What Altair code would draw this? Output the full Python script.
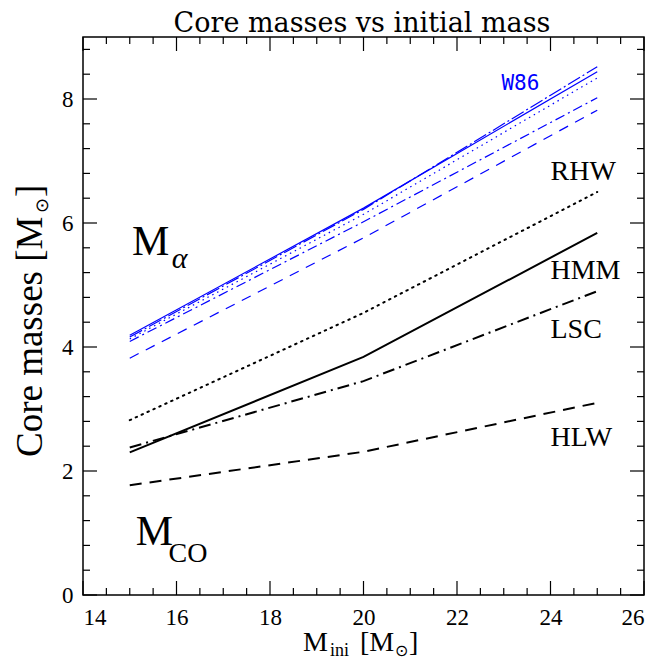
import altair as alt
import pandas as pd
import numpy as np

# ---------------- data ----------------
m_ini = [15, 20, 25]

rhw = [2.82, 4.55, 6.50]
hmm = [2.30, 3.84, 5.84]
lsc = [2.38, 3.45, 4.90]
hlw = [1.77, 2.31, 3.10]

w86_a = [4.16, 6.22, 8.52]
w86_b = [4.19, 6.24, 8.44]
w86_c = [4.13, 6.14, 8.34]
w86_d = [4.09, 6.02, 8.02]
w86_e = [3.82, 5.76, 7.82]

x_labels = [14, 16, 18, 20, 22, 24, 26]
y_labels = [0, 2, 4, 6, 8]

series = {
    "RHW": rhw, "HMM": hmm, "LSC": lsc, "HLW": hlw,
    "W86a": w86_a, "W86b": w86_b, "W86c": w86_c, "W86d": w86_d, "W86e": w86_e,
}
rows = []
for name, vals in series.items():
    for m, v in zip(m_ini, vals):
        rows.append({"series": name, "m": m, "v": v})
df = pd.DataFrame(rows)

styles = {
    "RHW": dict(color="black", strokeWidth=2.0, strokeDash=[1.5, 5], strokeCap="round"),
    "HMM": dict(color="black", strokeWidth=2.0),
    "LSC": dict(color="black", strokeWidth=2.0, strokeDash=[12, 5, 2, 5]),
    "HLW": dict(color="black", strokeWidth=2.0, strokeDash=[12, 8]),
    "W86a": dict(color="#0000ff", strokeWidth=1.2, strokeDash=[14, 3, 2, 3]),
    "W86b": dict(color="#0000ff", strokeWidth=1.2),
    "W86c": dict(color="#0000ff", strokeWidth=1.2, strokeDash=[1.5, 4]),
    "W86d": dict(color="#0000ff", strokeWidth=1.2, strokeDash=[10, 4, 2, 4]),
    "W86e": dict(color="#0000ff", strokeWidth=1.2, strokeDash=[10, 8]),
}

W, H = 561, 558
SERIF = "Liberation Serif"
xs = alt.Scale(domain=[14, 26], nice=False, zero=False)
ys = alt.Scale(domain=[0, 9], nice=False, zero=True)
xax = alt.Axis(values=x_labels, title=None, ticks=False, domain=False, grid=False,
               labelFont=SERIF, labelFontSize=23, labelColor="black", labelPadding=11)
yax = alt.Axis(values=y_labels, title=None, ticks=False, domain=False, grid=False,
               labelFont=SERIF, labelFontSize=23, labelColor="black", labelPadding=10)


def X(f):
    return alt.X(f, scale=xs, axis=xax)


def Y(f):
    return alt.Y(f, scale=ys, axis=yax)


layers = []
for name, st in styles.items():
    layers.append(
        alt.Chart(df).transform_filter(alt.datum.series == name)
        .mark_line(**st)
        .encode(x=X("m:Q"), y=Y("v:Q"))
    )

# inward ticks on all four sides
x_major = pd.DataFrame({"t": np.arange(14, 26.01, 2.0)})
x_minor = pd.DataFrame({"t": [t for t in np.arange(14, 26.01, 0.5) if t % 2 != 0]})
y_major = pd.DataFrame({"t": np.arange(0, 9.01, 2.0)})
y_minor = pd.DataFrame({"t": [round(t, 2) for t in np.arange(0, 9.01, 0.4) if round(t, 2) % 2 != 0]})


def xticks(d, ln):
    bot = alt.Chart(d).mark_rule(color="black", strokeWidth=1.2).encode(
        x=X("t:Q"), y=alt.value(H), y2=alt.value(H - ln))
    top = alt.Chart(d).mark_rule(color="black", strokeWidth=1.2).encode(
        x=X("t:Q"), y=alt.value(0), y2=alt.value(ln))
    return [bot, top]


def yticks(d, ln):
    left = alt.Chart(d).mark_rule(color="black", strokeWidth=1.2).encode(
        y=Y("t:Q"), x=alt.value(0), x2=alt.value(ln))
    right = alt.Chart(d).mark_rule(color="black", strokeWidth=1.2).encode(
        y=Y("t:Q"), x=alt.value(W), x2=alt.value(W - ln))
    return [left, right]


layers += xticks(x_major, 14) + xticks(x_minor, 7) + yticks(y_major, 14) + yticks(y_minor, 7)


# annotations in data coordinates
def dtext(txt, x, y, size, color="black", font=SERIF, style="normal", weight="normal"):
    d = pd.DataFrame({"x": [x], "y": [y], "t": [txt]})
    return alt.Chart(d).mark_text(align="left", baseline="alphabetic", fontSize=size,
                                  font=font, color=color, fontStyle=style,
                                  fontWeight=weight).encode(
        x=X("x:Q"), y=Y("y:Q"), text="t:N")


layers += [
    dtext("RHW", 24.0, 6.69, 28),
    dtext("HMM", 24.0, 5.10, 28),
    dtext("LSC", 24.0, 4.15, 28),
    dtext("HLW", 24.0, 2.40, 28),
    dtext("W86", 22.95, 8.15, 21, color="#0000ff", font="DejaVu Sans Mono"),
    dtext("M", 15.05, 5.48, 42),
    dtext("α", 15.9, 5.27, 30, style="italic"),
    dtext("M", 15.13, 0.81, 42),
    dtext("CO", 15.83, 0.53, 28),
]


# title and axis titles in pixel coordinates
def ptext(txt, x, y, size, angle=0, align="left", font=SERIF):
    d = pd.DataFrame({"t": [txt]})
    return alt.Chart(d).mark_text(align=align, baseline="alphabetic", fontSize=size,
                                  font=font, color="black", angle=angle).encode(
        x=alt.value(x), y=alt.value(y), text="t:N")


layers += [
    ptext("Core masses vs initial mass", 279, -5, 27, align="center", font="DejaVu Serif"),
    ptext("M", 220, 614, 28),
    ptext("ini", 247, 619, 18),
    ptext("[M", 277, 614, 28),
    ptext("⊙", 312, 619, 16),
    ptext("]", 326, 614, 28),
    ptext("Core masses [M", -41, 420, 37, angle=270),
    ptext("⊙", -35, 176, 18, angle=270),
    ptext("]", -41, 160, 37, angle=270),
]

chart = alt.layer(*layers).properties(
    width=W, height=H,
    autosize=alt.AutoSizeParams(type="none"),
    padding={"left": 75, "top": 29, "right": 17, "bottom": 64},
).configure_view(stroke="black", strokeWidth=1.5)

chart.save("out.html", embed_options={"renderer": "svg", "actions": False})
